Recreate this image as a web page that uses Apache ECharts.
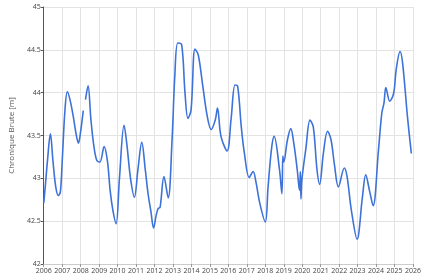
<!DOCTYPE html>
<html><head><meta charset="utf-8">
<script src="https://cdn.jsdelivr.net/npm/echarts@6/dist/echarts.min.js"></script>
<style>html,body{margin:0;padding:0;background:#fff}#c{width:424px;height:276px}</style>
</head><body><div id="c"></div>
<script>
const years = [2006.0,2006.1,2006.2,2006.36,2006.5,2006.65,2006.79,2006.9,2007.0,2007.15,2007.28,2007.43,2007.6,2007.75,2007.88,2008.0,2008.14,2008.2,2008.26,2008.4,2008.55,2008.7,2008.87,2009.04,2009.27,2009.45,2009.6,2009.75,2009.92,2010.1,2010.35,2010.5,2010.7,2010.91,2011.1,2011.31,2011.5,2011.65,2011.8,2011.95,2012.09,2012.2,2012.3,2012.51,2012.74,2012.95,2013.1,2013.26,2013.47,2013.65,2013.81,2013.98,2014.19,2014.37,2014.6,2014.86,2015.07,2015.29,2015.41,2015.6,2015.93,2016.15,2016.36,2016.5,2016.7,2016.87,2017.13,2017.34,2017.5,2017.7,2018.0,2018.15,2018.34,2018.48,2018.77,2018.9,2018.95,2019.0,2019.2,2019.38,2019.55,2019.73,2019.85,2019.9,2019.93,2019.98,2020.2,2020.42,2020.6,2020.8,2020.94,2021.15,2021.37,2021.56,2021.75,2021.96,2022.28,2022.43,2022.66,2022.97,2023.26,2023.44,2023.65,2023.84,2024.13,2024.31,2024.43,2024.53,2024.74,2024.95,2025.09,2025.3,2025.44,2025.7,2025.91];
const levels = [42.71,42.95,43.2,43.52,43.2,42.9,42.80,42.84,43.2,43.8,44.01,43.91,43.72,43.52,43.41,43.55,43.79,null,43.92,44.08,43.7,43.4,43.21,43.19,43.37,43.2,42.85,42.62,42.47,43.0,43.62,43.4,43.0,42.78,43.1,43.42,43.1,42.82,42.62,42.42,42.57,42.65,42.66,43.02,42.77,43.45,44.2,44.58,44.56,44.0,43.70,43.80,44.51,44.44,44.1,43.72,43.57,43.68,43.82,43.49,43.32,43.7,44.09,44.08,43.6,43.29,43.01,43.08,42.95,42.71,42.49,42.9,43.35,43.49,43.10,42.82,43.26,43.19,43.45,43.58,43.4,43.10,42.86,43.08,42.76,42.98,43.35,43.68,43.60,43.1,42.93,43.3,43.55,43.45,43.15,42.90,43.12,43.02,42.63,42.29,42.78,43.04,42.85,42.68,43.33,43.76,43.88,44.06,43.90,43.99,44.27,44.48,44.34,43.72,43.29];
const yTicks = [42, 42.5, 43, 43.5, 44, 44.5, 45];
const yName = 'Chronique Brute [m]';

const data = years.map((t, i) => [t, levels[i]]);
const chart = echarts.init(document.getElementById('c'), null, {renderer: 'canvas'});
const font = 'Open Sans, Arial, Liberation Sans';
chart.setOption({
  animation: false,
  grid: {left: 34, right: 6, top: 7, bottom: 12, containLabel: false},
  xAxis: {
    type: 'value', min: 2006, max: 2026, interval: 1,
    axisLine: {show: true, lineStyle: {color: '#cccccc'}},
    axisTick: {show: true, length: 3, lineStyle: {color: '#999'}},
    axisLabel: {fontSize: 7, color: '#444', margin: 3, fontFamily: font,
      formatter: v => String(Math.round(v))},
    splitLine: {show: true, lineStyle: {color: '#e3e3e3', width: 1}}
  },
  yAxis: {
    type: 'value', min: yTicks[0], max: yTicks[yTicks.length-1], interval: 0.5,
    name: yName, nameLocation: 'middle', nameGap: 24, nameRotate: 90,
    nameTextStyle: {fontSize: 8, color: '#555', fontFamily: font},
    axisLine: {show: true, lineStyle: {color: '#555'}},
    axisTick: {show: true, length: 3, lineStyle: {color: '#555'}},
    axisLabel: {fontSize: 7, color: '#444', margin: 3, fontFamily: font},
    splitLine: {show: true, lineStyle: {color: '#e3e3e3', width: 1}}
  },
  series: [{
    type: 'line', data: data, showSymbol: false, smooth: 0.35, connectNulls: false,
    lineStyle: {color: '#3d72d9', width: 1.6}, itemStyle: {color: '#3d72d9'}
  }]
});
</script></body></html>
